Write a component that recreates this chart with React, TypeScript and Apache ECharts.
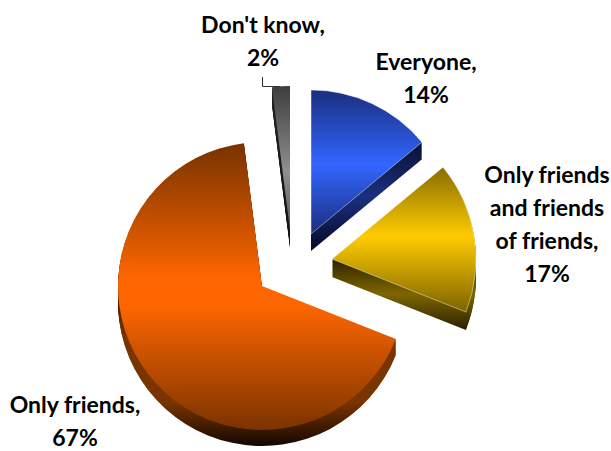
import React, { useEffect, useRef } from "react";
import * as echarts from "echarts";

const categories = ["Everyone", "Only friends\nand friends\nof friends", "Only friends", "Don't know"];
const values = [14, 17, 67, 2];

const W = 611;
const H = 451;
const RADIUS = 144;
const LINE_STEP = 33;
const centers = [[311, 234], [332, 259], [262, 286], [290, 230]];
const depths = [17, 18, 16, 18];
const labelSpots = [[426, 77], [547, 223], [75, 420.5], [263, 40]];
const edgeWidths = [0.8, 0.8, 0, 0];

const grad = (y1: number, y2: number, stops: [number, string][]) => ({
  type: "linear",
  global: true,
  x: 0,
  y: y1,
  x2: 0,
  y2,
  colorStops: stops.map(([offset, color]) => ({ offset, color })),
});

const topFills = [
  grad(91, 233, [[0, "#1a2f80"], [0.52, "#3366ff"], [1, "#1a2f80"]]),
  grad(168, 310, [[0, "#8a6d00"], [0.48, "#ffcc00"], [1, "#7f6600"]]),
  grad(146, 430, [[0, "#7a3300"], [0.47, "#ff6600"], [0.56, "#ff6600"], [1, "#7a3300"]]),
  grad(88, 240, [[0, "#3f3f3f"], [0.55, "#8f8f8f"], [1, "#505050"]]),
];
const sideFills = [
  grad(142, 250, [[0, "#081030"], [0.5, "#1b3080"], [1, "#050a26"]]),
  grad(258, 330, [[0, "#2a2000"], [0.5, "#7f6600"], [1, "#2a2000"]]),
  grad(300, 446, [[0, "#4a2000"], [0.25, "#7a3400"], [0.7, "#7a3400"], [1, "#140700"]]),
  grad(88, 250, [[0, "#222222"], [1, "#111111"]]),
];

function buildSeries() {
  const total = values.reduce((a, b) => a + b, 0);
  const sides: any[] = [];
  const tops: any[] = [];
  let run = 0;
  values.forEach((value, i) => {
    const startAngle = 90 - (run / total) * 360;
    run += value;
    const endAngle = 90 - (run / total) * 360;
    const base = {
      type: "pie",
      radius: [0, RADIUS],
      startAngle,
      endAngle,
      clockwise: true,
      silent: true,
      animation: false,
      emphasis: { disabled: true },
      label: { show: false },
      labelLine: { show: false },
    };
    for (let d = depths[i]; d >= 1; d--) {
      sides.push({
        ...base,
        center: [centers[i][0], centers[i][1] + d],
        data: [{ name: categories[i], value, itemStyle: { color: sideFills[i] } }],
      });
    }
    tops.push({
      ...base,
      center: centers[i],
      data: [
        {
          name: categories[i],
          value,
          itemStyle: {
            color: topFills[i],
            borderColor: "rgba(255,255,255,0.55)",
            borderWidth: edgeWidths[i],
          },
        },
      ],
    });
  });
  return [...sides, ...tops];
}

function buildLabels() {
  return categories.flatMap((name, i) => {
    const lines = `${name},\n${values[i]}%`.split("\n");
    return lines.map((line, j) => ({
      type: "text",
      x: labelSpots[i][0],
      y: labelSpots[i][1] + (j - (lines.length - 1) / 2) * LINE_STEP,
      style: {
        text: line,
        fontFamily: "Lato",
        fontWeight: "bold",
        fontSize: 23,
        lineHeight: 20,
        fill: "#000000",
        align: "center",
        verticalAlign: "middle",
      },
    }));
  });
}

export default function App() {
  const ref = useRef<HTMLDivElement>(null);
  useEffect(() => {
    document.body.style.margin = "0";
    const chart = echarts.init(ref.current!, null, { renderer: "svg" });
    chart.setOption({
      animation: false,
      backgroundColor: "#ffffff",
      series: buildSeries(),
      graphic: [
        ...buildLabels(),
        {
          type: "polyline",
          shape: { points: [[262.5, 77], [262.5, 86.5], [280, 86.5]] },
          style: { stroke: "#333333", lineWidth: 1, fill: "none" },
        },
      ],
    });
    return () => chart.dispose();
  }, []);
  return <div ref={ref} style={{ width: W, height: H }} />;
}
